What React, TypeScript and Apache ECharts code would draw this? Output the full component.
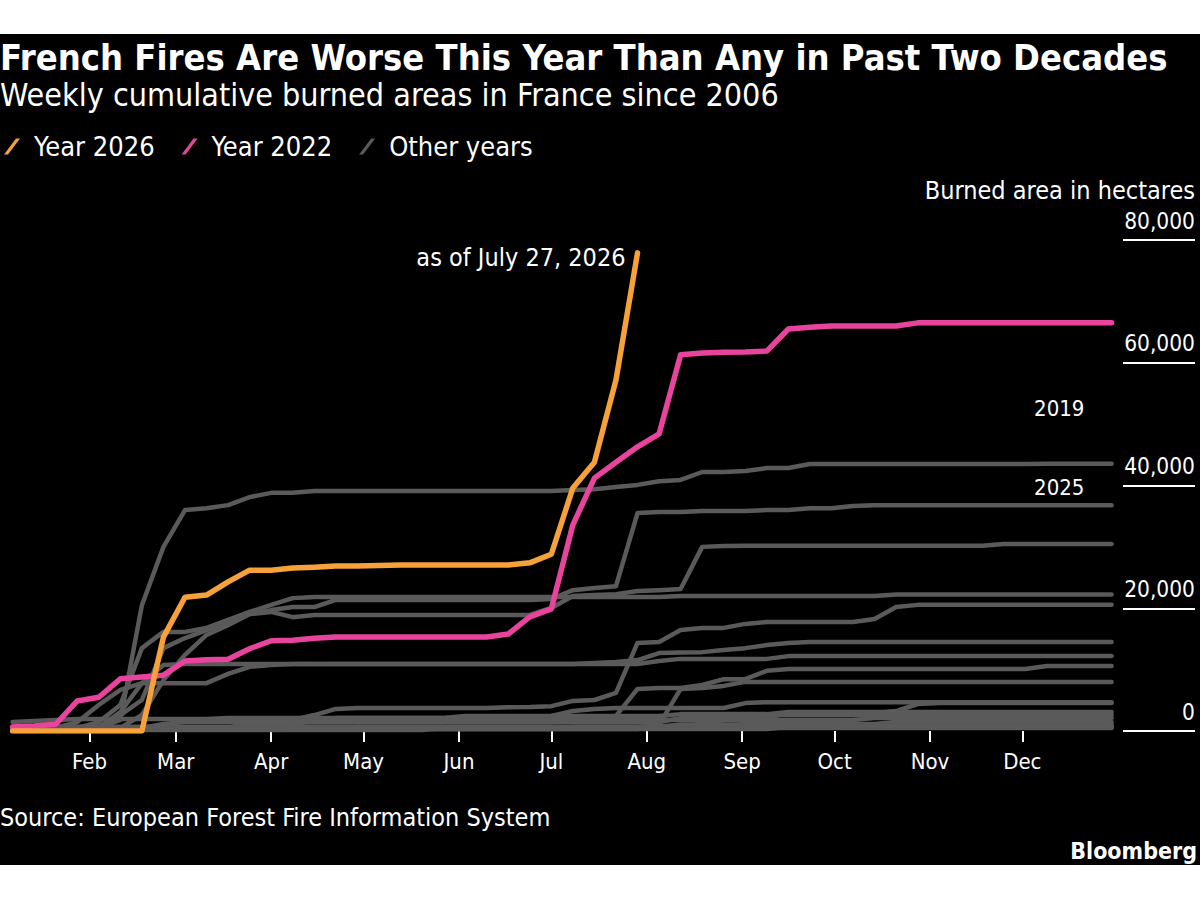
import React, { useEffect, useRef } from "react";
import * as echarts from "echarts";

// ---------- data ----------
const WEEK_DAYS = [6, 13, 20, 27, 34, 41, 48, 55, 62, 69, 76, 83, 90, 97, 104, 111, 118, 125, 132, 139, 146, 153, 160, 167, 174, 181, 188, 195, 202, 209, 216, 223, 230, 237, 244, 251, 258, 265, 272, 279, 286, 293, 300, 307, 314, 321, 328, 335, 342, 349, 356, 363];

const MONTH_DAYS = [31, 59, 90, 120, 151, 181, 212, 243, 273, 304, 334];
const MONTH_LABELS = ["Feb", "Mar", "Apr", "May", "Jun", "Jul", "Aug", "Sep", "Oct", "Nov", "Dec"];

const Y_TICKS = [0, 20000, 40000, 60000, 80000];

const Y2026 = [0, 0, 0, 0, 0, 0, 0, 15300, 21800, 22150, 24300, 26200, 26200, 26550, 26700, 26900, 26900, 26950, 27050, 27050, 27050, 27050, 27050, 27050, 27400, 28800, 39600, 43800, 57200, 77900];

const Y2022 = [650, 800, 1100, 4900, 5500, 8500, 8800, 9100, 11400, 11600, 11700, 13400, 14700, 14800, 15100, 15300, 15300, 15300, 15300, 15300, 15300, 15300, 15300, 15800, 18600, 19900, 33600, 41200, 43800, 46300, 48400, 61300, 61600, 61700, 61750, 61900, 65500, 65800, 66000, 66000, 66000, 66000, 66500, 66500, 66500, 66500, 66500, 66500, 66500, 66500, 66500, 66500];

const Y2019 = [500, 500, 500, 500, 500, 1800, 20500, 30000, 36000, 36300, 36800, 38100, 38800, 38800, 39100, 39100, 39100, 39100, 39100, 39100, 39100, 39100, 39100, 39100, 39100, 39100, 39250, 39400, 39750, 40100, 40700, 40900, 42200, 42200, 42350, 42850, 42850, 43500, 43500, 43500, 43500, 43500, 43500, 43500, 43500, 43500, 43500, 43500, 43550, 43550, 43550, 43550];

const Y2025 = [650, 650, 650, 650, 650, 2600, 5050, 13500, 15150, 16450, 17600, 19050, 19700, 20200, 20200, 21350, 21350, 21350, 21350, 21350, 21350, 21350, 21350, 21350, 21350, 21500, 22950, 23300, 23600, 35500, 35700, 35700, 35850, 35850, 35850, 36000, 36000, 36300, 36300, 36650, 36800, 36800, 36800, 36800, 36800, 36800, 36800, 36800, 36800, 36800, 36800, 36800];

const OTHER_A = [500, 500, 500, 500, 500, 500, 2600, 8300, 12400, 15650, 17250, 19050, 19400, 18550, 18900, 18900, 18900, 18900, 18900, 18900, 18900, 18900, 18900, 18900, 18900, 20050, 22000, 22150, 22300, 22800, 22950, 23150, 30000, 30150, 30200, 30200, 30200, 30200, 30200, 30200, 30200, 30200, 30200, 30200, 30200, 30200, 30450, 30450, 30450, 30450, 30450, 30450];

const OTHER_B = [500, 500, 500, 500, 1450, 4250, 13500, 16150, 16150, 16800, 18100, 19400, 20550, 21650, 21850, 21850, 21850, 21850, 21850, 21850, 21850, 21850, 21850, 21850, 21850, 21850, 21850, 21850, 21850, 21850, 21850, 22000, 22000, 22000, 22000, 22000, 22000, 22000, 22000, 22000, 22000, 22250, 22250, 22250, 22250, 22250, 22250, 22250, 22250, 22250, 22250, 22250];

const OTHER_C = [500, 500, 500, 500, 500, 3100, 7800, 10750, 10900, 10900, 10900, 10900, 10900, 10900, 10900, 10900, 10900, 10900, 10900, 10900, 10900, 10900, 10900, 10900, 10900, 10900, 10900, 11100, 11250, 11550, 12700, 12800, 12850, 13200, 13500, 14000, 14350, 14500, 14500, 14500, 14500, 14500, 14500, 14500, 14500, 14500, 14500, 14500, 14500, 14500, 14500, 14500];

const OTHER_D = [500, 500, 500, 1450, 4250, 6700, 7800, 7800, 7800, 7800, 9300, 10450, 10750, 10900, 10900, 10900, 10900, 10900, 10900, 10900, 10900, 10900, 10900, 10900, 10900, 10900, 10900, 10900, 10900, 10900, 11400, 11750, 11750, 11750, 11750, 11750, 12200, 12200, 12200, 12200, 12200, 12200, 12200, 12200, 12200, 12200, 12200, 12200, 12200, 12200, 12200, 12200];

const OTHER_E = [500, 500, 500, 500, 500, 500, 500, 500, 500, 500, 500, 500, 500, 1800, 2600, 3600, 3750, 3750, 3750, 3750, 3750, 3750, 3750, 3850, 3900, 4050, 4900, 5050, 6200, 14350, 14500, 16450, 16800, 16800, 17450, 17750, 17750, 17750, 17750, 17750, 18250, 20200, 20550, 20550, 20550, 20550, 20550, 20550, 20550, 20550, 20550, 20550];

const OTHER_F = [500, 500, 500, 500, 500, 500, 500, 500, 500, 500, 500, 1450, 1450, 1450, 1450, 1450, 1450, 1450, 1450, 1450, 1450, 1450, 1450, 1450, 1450, 1450, 1800, 2100, 2450, 6850, 7000, 7000, 7500, 8450, 8450, 9800, 10100, 10100, 10100, 10100, 10100, 10100, 10100, 10100, 10100, 10100, 10100, 10100, 10600, 10600, 10600, 10600];

const OTHER_G = [650, 650, 650, 650, 650, 650, 650, 650, 650, 650, 650, 650, 650, 650, 650, 650, 650, 650, 650, 650, 650, 650, 650, 650, 650, 650, 650, 650, 650, 650, 1000, 6850, 7000, 7350, 8000, 8000, 8000, 8000, 8000, 8000, 8000, 8000, 8000, 8000, 8000, 8000, 8000, 8000, 8000, 8000, 8000, 8000];

const OTHER_H = [500, 500, 500, 500, 500, 500, 500, 500, 500, 500, 500, 500, 500, 1000, 1800, 2100, 2100, 2100, 2100, 2100, 2100, 2100, 2100, 2100, 2100, 2450, 3250, 3600, 3750, 3750, 3750, 3750, 3750, 3750, 4550, 4700, 4700, 4700, 4700, 4700, 4700, 4700, 4700, 4700, 4700, 4700, 4700, 4700, 4700, 4700, 4700, 4700];

const OTHER_I = [500, 500, 500, 500, 500, 500, 500, 500, 500, 500, 500, 800, 1150, 1450, 1450, 1450, 1450, 1450, 1450, 1450, 1450, 1450, 1450, 1450, 1450, 1450, 1450, 1450, 1450, 1450, 1450, 2100, 2100, 2100, 2100, 2100, 2950, 2950, 2950, 2950, 2950, 3250, 4400, 4550, 4550, 4550, 4550, 4550, 4550, 4550, 4550, 4550];

const OTHER_J = [1450, 1650, 1800, 1950, 1950, 1950, 1950, 1950, 1950, 1950, 2100, 2100, 2100, 2100, 2100, 2100, 2100, 2100, 2100, 2100, 2100, 2450, 2450, 2450, 2450, 2450, 2450, 2450, 2450, 2450, 2450, 2750, 2750, 2750, 2750, 2750, 3100, 3100, 3100, 3100, 3100, 3100, 3100, 3100, 3100, 3100, 3100, 3100, 3100, 3100, 3100, 3100];

const OTHER_K = [650, 650, 650, 650, 650, 650, 650, 650, 650, 650, 650, 650, 650, 650, 650, 650, 650, 650, 650, 650, 650, 650, 650, 650, 650, 650, 650, 650, 650, 650, 650, 800, 1150, 1800, 2450, 2600, 2600, 2600, 2600, 2600, 2600, 2600, 2600, 2600, 2600, 2600, 2600, 2600, 2600, 2600, 2600, 2600];

const OTHER_L = [500, 500, 500, 500, 500, 500, 500, 1150, 1450, 1450, 1450, 1450, 1450, 1450, 1450, 1450, 1450, 1450, 1450, 1450, 1450, 1800, 1800, 1800, 1800, 1800, 1800, 1800, 1800, 1800, 1800, 1800, 1800, 1800, 1800, 1800, 1800, 1800, 1800, 1800, 2100, 2100, 2100, 2100, 2100, 2100, 2100, 2100, 2100, 2100, 2100, 2100];

const OTHER_M = [330, 330, 330, 330, 330, 330, 330, 330, 330, 330, 330, 330, 330, 330, 330, 330, 330, 330, 330, 330, 330, 330, 330, 330, 330, 330, 650, 650, 650, 650, 650, 650, 650, 650, 1150, 1150, 1150, 1150, 1150, 1150, 1150, 1450, 1450, 1450, 1450, 1450, 1450, 1450, 1450, 1450, 1450, 1450];

const OTHER_N = [330, 330, 330, 330, 330, 330, 330, 330, 330, 330, 330, 330, 330, 330, 330, 330, 650, 650, 650, 650, 650, 650, 650, 650, 650, 650, 650, 650, 650, 650, 650, 1050, 1050, 1050, 1050, 1050, 1050, 1050, 1050, 1050, 1050, 1050, 1050, 1050, 1050, 1050, 1050, 1050, 1050, 1050, 1050, 1050];

const OTHER_O = [330, 330, 330, 330, 330, 330, 330, 330, 330, 330, 330, 330, 330, 330, 330, 330, 330, 330, 330, 330, 330, 330, 330, 330, 330, 330, 330, 330, 330, 330, 800, 800, 800, 800, 800, 800, 800, 800, 800, 800, 800, 800, 800, 800, 800, 800, 800, 800, 800, 800, 800, 800];

const OTHER_P = [150, 150, 150, 150, 150, 150, 150, 150, 150, 150, 150, 150, 150, 150, 150, 150, 150, 150, 150, 150, 500, 500, 500, 500, 500, 500, 500, 500, 500, 500, 500, 500, 500, 500, 500, 500, 500, 500, 500, 500, 500, 500, 500, 500, 500, 500, 500, 500, 500, 500, 500, 500];

const OTHER_Q = [250, 250, 250, 250, 250, 250, 250, 250, 250, 250, 250, 250, 250, 330, 330, 330, 330, 330, 330, 330, 330, 330, 330, 330, 330, 330, 330, 330, 330, 330, 330, 330, 330, 330, 330, 330, 650, 650, 650, 650, 650, 650, 650, 650, 650, 650, 650, 650, 650, 650, 650, 650];

const OTHER_YEARS = [OTHER_A, OTHER_B, OTHER_C, OTHER_D, OTHER_E, OTHER_F, OTHER_G, OTHER_H, OTHER_I, OTHER_J, OTHER_K, OTHER_L, OTHER_M, OTHER_N, OTHER_O, OTHER_P, OTHER_Q];

const TITLE = "French Fires Are Worse This Year Than Any in Past Two Decades";
const SUBTITLE = "Weekly cumulative burned areas in France since 2006";
const SOURCE = "Source: European Forest Fire Information System";
const UNIT = "Burned area in hectares";
const END_NOTE = "as of July 27, 2026";

// ---------- styles ----------
const FONT = "'DejaVu Sans Condensed', 'DejaVu Sans', sans-serif";
const ORANGE = "#F6A13A";
const PINK = "#E8449E";
const GRAY = "#5a5a5a";
const WHITE = "#ffffff";

const toPairs = (vals: number[]) => vals.map((v, i) => [WEEK_DAYS[i], v]);

function lineSeries(name: string, vals: number[], color: string, width: number, z: number, extra: any = {}) {
  return {
    type: "line",
    name,
    data: toPairs(vals),
    showSymbol: false,
    symbol: "none",
    z,
    silent: true,
    lineStyle: { color, width, cap: "round", join: "round" },
    itemStyle: { color },
    ...extra,
  };
}

function yearLabel(text: string, coord: number[]) {
  return {
    symbol: "circle",
    symbolSize: 2,
    itemStyle: { color: "rgba(0,0,0,0)" },
    silent: true,
    z: 10,
    data: [{ coord, value: text }],
    label: { show: true, position: "inside", formatter: text, color: WHITE, fontSize: 22, fontFamily: FONT },
  };
}

export default function App() {
  const ref = useRef<HTMLDivElement>(null);

  useEffect(() => {
    document.body.style.margin = "0";
    if (!ref.current) return;
    const chart = echarts.init(ref.current, null, { renderer: "svg" });

    const series: any[] = [];
    series.push(lineSeries("Other years", Y2019, GRAY, 4.5, 2, { markPoint: yearLabel("2019", [346, 52600]) }));
    series.push(lineSeries("Other years", Y2025, GRAY, 4.5, 2, { markPoint: yearLabel("2025", [346, 39600]) }));
    OTHER_YEARS.forEach((vals) => series.push(lineSeries("Other years", vals, GRAY, 4.5, 2)));
    series.push(lineSeries("Year 2022", Y2022, PINK, 5.5, 4));
    series.push(
      lineSeries("Year 2026", Y2026, ORANGE, 5.5, 5, {
        endLabel: {
          show: true,
          formatter: END_NOTE,
          color: WHITE,
          fontSize: 25,
          fontFamily: FONT,
          align: "right",
          distance: 0,
          offset: [-12, 5],
        },
      })
    );

    const option: any = {
      animation: false,
      backgroundColor: "#000000",
      textStyle: { fontFamily: FONT, color: WHITE },
      title: [
        { text: TITLE, left: 0, top: 5, padding: 0, textStyle: { color: WHITE, fontSize: 36, fontWeight: "bold", fontFamily: FONT, lineHeight: 36 } },
        { text: SUBTITLE, left: 0, top: 45, padding: 0, textStyle: { color: WHITE, fontSize: 32, fontWeight: "normal", fontFamily: FONT, lineHeight: 32 } },
        { text: UNIT, right: 5, top: 144, padding: 0, textStyle: { color: WHITE, fontSize: 25, fontWeight: "normal", fontFamily: FONT, lineHeight: 25 } },
        { text: SOURCE, left: 0, top: 771, padding: 0, textStyle: { color: WHITE, fontSize: 25, fontWeight: "normal", fontFamily: FONT, lineHeight: 25 } },
        { text: "Bloomberg", right: 3, top: 805, padding: 0, textStyle: { color: WHITE, fontSize: 23, fontWeight: "bold", fontFamily: FONT, lineHeight: 23 } },
      ],
      legend: {
        data: ["Year 2026", "Year 2022", "Other years"],
        left: 4,
        top: 99,
        padding: 0,
        itemGap: 27,
        itemWidth: 16,
        itemHeight: 21,
        icon: "path://M0,20 L5,20 L20,0 L15,0 Z",
        selectedMode: false,
        textStyle: { color: WHITE, fontSize: 27, fontFamily: FONT, padding: [0, 0, 0, 9] },
      },
      grid: { left: 12.6, top: 206, width: 1099, height: 491, containLabel: false },
      xAxis: {
        type: "value",
        min: 6,
        max: 363,
        axisLine: { show: false },
        splitLine: { show: false },
        axisTick: { show: true, customValues: MONTH_DAYS, length: 11, lineStyle: { color: WHITE, width: 2 } },
        axisLabel: {
          customValues: MONTH_DAYS,
          formatter: (v: number) => MONTH_LABELS[MONTH_DAYS.indexOf(v)] ?? "",
          color: WHITE,
          fontSize: 22,
          fontFamily: FONT,
          margin: 19,
        },
      },
      yAxis: {
        type: "value",
        position: "right",
        min: 0,
        max: 80000,
        interval: 20000,
        offset: 11.4,
        axisLine: { show: false },
        splitLine: { show: false },
        axisTick: { show: true, inside: false, length: 72, lineStyle: { color: WHITE, width: 2 } },
        axisLabel: {
          customValues: Y_TICKS,
          color: WHITE,
          fontSize: 22.5,
          fontFamily: FONT,
          align: "right",
          margin: 72,
          verticalAlign: "bottom",
          padding: [0, 0, 8, 0],
          showMinLabel: true,
          showMaxLabel: true,
          formatter: (v: number) => v.toLocaleString("en-US"),
        },
      },
      series,
    };

    chart.setOption(option);
    return () => chart.dispose();
  }, []);

  return (
    <div style={{ width: 1200, height: 900, background: "#ffffff", position: "relative" }}>
      <div ref={ref} style={{ position: "absolute", left: 0, top: 34, width: 1200, height: 831, background: "#000" }} />
    </div>
  );
}
